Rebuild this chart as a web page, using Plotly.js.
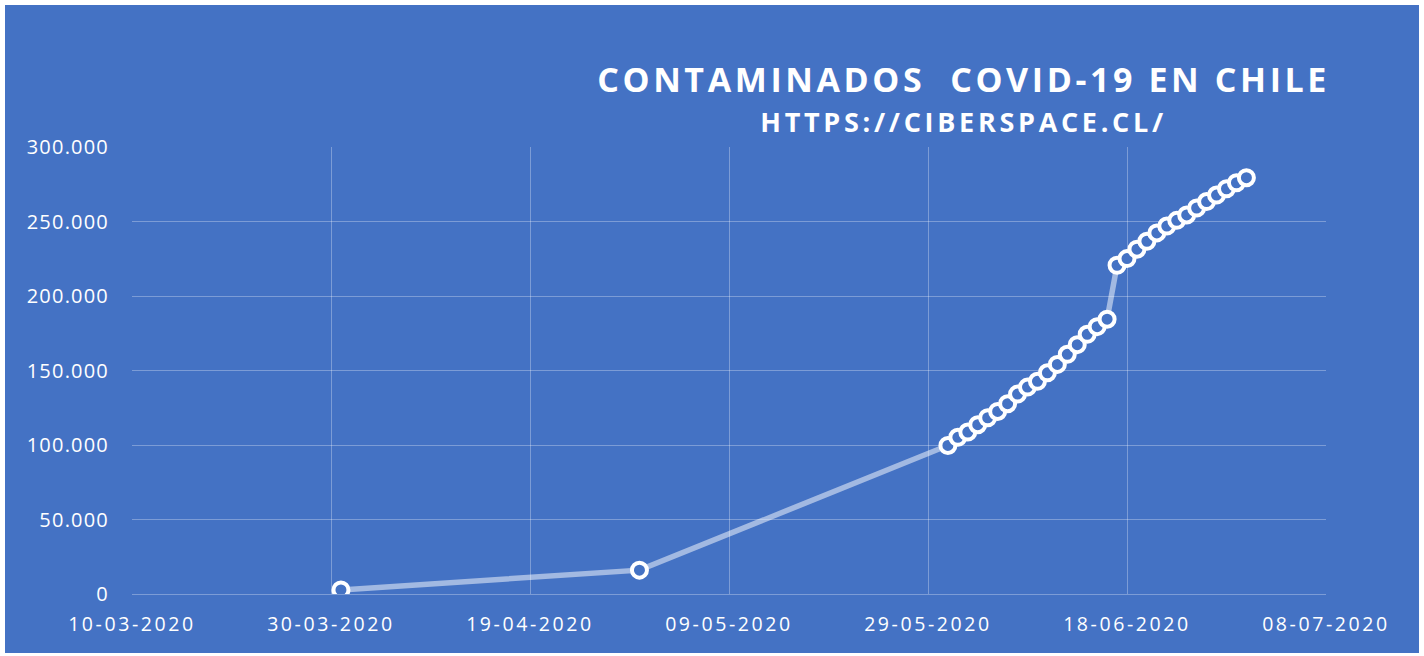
<!DOCTYPE html>
<html>
<head>
<meta charset="utf-8">
<script src="https://cdn.plot.ly/plotly-3.0.1.min.js"></script>
<style>
  html, body { margin: 0; padding: 0; background: #ffffff; width: 1424px; height: 656px; overflow: hidden; }
  #chart { position: absolute; left: 5px; top: 5px; width: 1414px; height: 648px; }
  .xtick text { letter-spacing: 2.6px; }
  .ytick text { letter-spacing: 1.2px; }
</style>
</head>
<body>
<div id="chart"></div>
<script>
const dates = [
  '2020-03-31', '2020-04-30',
  '2020-05-31', '2020-06-01', '2020-06-02', '2020-06-03', '2020-06-04', '2020-06-05',
  '2020-06-06', '2020-06-07', '2020-06-08', '2020-06-09', '2020-06-10', '2020-06-11',
  '2020-06-12', '2020-06-13', '2020-06-14', '2020-06-15', '2020-06-16',
  '2020-06-17', '2020-06-18', '2020-06-19', '2020-06-20', '2020-06-21', '2020-06-22',
  '2020-06-23', '2020-06-24', '2020-06-25', '2020-06-26', '2020-06-27', '2020-06-28',
  '2020-06-29', '2020-06-30'
];
const contaminados = [
  2738, 16023,
  99688, 105159, 108686, 113628, 118292, 122499,
  127745, 134150, 138846, 142759, 148456, 154092,
  160846, 167355, 174293, 179436, 184449,
  220628, 225103, 231393, 236748, 242355, 246963,
  250767, 254416, 259064, 263360, 267766, 271982,
  275999, 279393
];
const titleText = 'CONTAMINADOS&nbsp;&nbsp;COVID-19 EN CHILE';
const subtitleText = 'HTTPS://CIBERSPACE.CL/';
const xRange = ['2020-03-10', '2020-07-08'];
const yRange = [0, 300000];

const bg = '#4472C4';
const grid = 'rgba(255,255,255,0.3)';

const trace = {
  x: dates,
  y: contaminados,
  type: 'scatter',
  mode: 'lines+markers',
  line: { color: 'rgba(255,255,255,0.5)', width: 5.5 },
  marker: { symbol: 'circle', size: 15, color: bg, line: { color: '#ffffff', width: 4 } },
  hoverinfo: 'x+y'
};

const layout = {
  width: 1414,
  height: 648,
  paper_bgcolor: bg,
  plot_bgcolor: bg,
  margin: { l: 127, r: 93, t: 142, b: 59 },
  showlegend: false,
  separators: ',.',
  font: { family: 'Open Sans, sans-serif', color: '#ffffff', size: 19 },
  xaxis: {
    type: 'date',
    range: xRange,
    tick0: '2020-03-10',
    dtick: 20 * 86400000,
    tickformat: '%d-%m-%Y',
    showgrid: true,
    gridcolor: grid,
    gridwidth: 1,
    showline: true,
    linecolor: grid,
    linewidth: 1,
    zeroline: false,
    ticks: '',
    ticklabelstandoff: 13,
    tickfont: { family: 'Open Sans, sans-serif', size: 19.5, color: '#ffffff' }
  },
  yaxis: {
    range: yRange,
    dtick: 50000,
    tickformat: ',d',
    showgrid: true,
    gridcolor: grid,
    gridwidth: 1,
    showline: false,
    zeroline: false,
    ticks: '',
    ticklabelstandoff: 22,
    tickfont: { family: 'Open Sans, sans-serif', size: 20, color: '#ffffff' }
  },
  annotations: [
    {
      text: '<b>' + titleText + '</b>',
      xref: 'paper', yref: 'paper',
      x: 0.696, y: 1.152,
      xanchor: 'center', yanchor: 'middle',
      showarrow: false, borderpad: 0,
      font: { family: 'Open Sans, sans-serif', size: 34, color: '#ffffff' }
    },
    {
      text: '<b>' + subtitleText + '</b>',
      xref: 'paper', yref: 'paper',
      x: 0.6965, y: 1.058,
      xanchor: 'center', yanchor: 'middle',
      showarrow: false, borderpad: 0,
      font: { family: 'Open Sans, sans-serif', size: 27, color: '#ffffff' }
    }
  ]
};

Plotly.newPlot('chart', [trace], layout, { displayModeBar: false, staticPlot: true }).then(function () {
  const anns = document.querySelectorAll('#chart .annotation-text');
  if (anns[0]) anns[0].style.letterSpacing = '3.6px';
  if (anns[1]) anns[1].style.letterSpacing = '3.7px';
});
</script>
</body>
</html>
